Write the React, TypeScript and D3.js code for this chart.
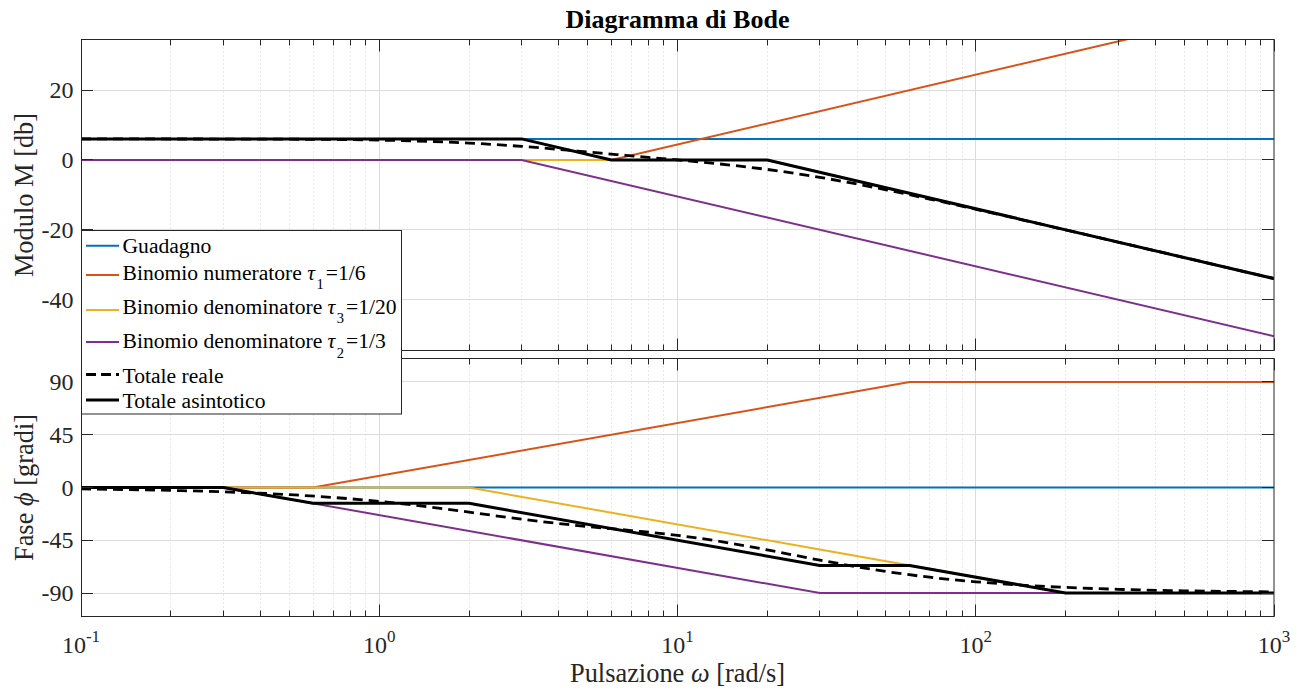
import React from 'react';
import * as d3 from 'd3';

type Pt = [number, number];

// ---------- data ----------
const freqDecades = [0.1, 1, 10, 100, 1000];
const decadeExponents = ['-1', '0', '1', '2', '3'];
const minorMultipliers = [2, 3, 4, 5, 6, 7, 8, 9];
const magTicks = [-40, -20, 0, 20];
const phaseTicks = [-90, -45, 0, 45, 90];
const magDomain: Pt = [-54.6, 34.5];
const phaseDomain: Pt = [-110, 110];

// Modulo [dB]  ([omega, value])
const magGuadagno: Pt[] = [[0.1, 6.02], [1000, 6.02]];
const magNumeratore: Pt[] = [[0.1, 0], [6, 0], [1000, 44.4]];
const magDenom3: Pt[] = [[0.1, 0], [20, 0], [1000, -34.0]];
const magDenom2: Pt[] = [[0.1, 0], [3, 0], [1000, -50.5]];
const magReale: Pt[] = [
  [0.1, 6.02], [0.2, 6.0], [0.5, 5.93], [1, 5.67], [1.5, 5.29], [2, 4.84], [3, 3.88],
  [4, 3.01], [5, 2.27], [6, 1.67], [8, 0.72], [10, 0.0], [15, -1.47], [20, -2.73],
  [30, -4.99], [50, -8.55], [70, -11.2], [100, -14.14], [200, -20.04], [500, -27.97], [1000, -33.98],
];
const magAsintotico: Pt[] = [[0.1, 6.02], [3, 6.02], [6, 0], [20, 0], [1000, -34.0]];

// Fase [gradi]
const phGuadagno: Pt[] = [[0.1, 0], [1000, 0]];
const phNumeratore: Pt[] = [[0.1, 0], [0.6, 0], [60, 90], [1000, 90]];
const phDenom3: Pt[] = [[0.1, 0], [2, 0], [200, -90], [1000, -90]];
const phDenom2: Pt[] = [[0.1, 0], [0.3, 0], [30, -90], [1000, -90]];
const phReale: Pt[] = [
  [0.1, -1.2], [0.2, -2.5], [0.3, -3.7], [0.5, -6.1], [0.7, -8.5], [1, -11.8], [1.5, -16.8],
  [2, -21.0], [3, -27.0], [5, -33.3], [7, -36.7], [10, -40.8], [15, -47.4], [20, -53.2],
  [30, -61.9], [50, -71.6], [70, -76.5], [100, -80.4], [150, -83.6], [200, -85.2],
  [300, -86.8], [500, -88.1], [1000, -89.0],
];
const phAsintotico: Pt[] = [
  [0.1, 0], [0.3, 0], [0.6, -13.5], [2, -13.5], [30, -66.5], [60, -66.5], [200, -90], [1000, -90],
];

// legend: [prefix, sub, suffix]
const legendLabels: [string, string, string][] = [
  ['Guadagno', '', ''],
  ['Binomio numeratore ', '1', '=1/6'],
  ['Binomio denominatore ', '3', '=1/20'],
  ['Binomio denominatore ', '2', '=1/3'],
  ['Totale reale', '', ''],
  ['Totale asintotico', '', ''],
];

// ---------- layout / style ----------
const W = 1299, H = 690;
const L = 81, R = 1274;
const T1 = 39.5, B1 = 350.5;
const T2 = 358.5, B2 = 616.5;
const FONT = '"Liberation Serif", "Times New Roman", Times, serif';
const AX = '#262626';
const COLORS = ['#0072BD', '#D95319', '#EDB120', '#7E2F8E', '#000000', '#000000'];

const x = d3.scaleLog().domain([freqDecades[0], freqDecades[freqDecades.length - 1]]).range([L, R]);
const yM = d3.scaleLinear().domain(magDomain).range([B1, T1]);
const yP = d3.scaleLinear().domain(phaseDomain).range([B2, T2]);

const minorFreqs: number[] = [];
freqDecades.slice(0, -1).forEach((d) => minorMultipliers.forEach((m) => minorFreqs.push(d * m)));

const crisp = (v: number) => Math.round(v - 0.5) + 0.5;

function Series({ y, sets }: { y: d3.ScaleLinear<number, number>; sets: Pt[][] }) {
  const lin = d3.line<Pt>().x((d) => x(d[0])).y((d) => y(d[1]));
  const smooth = d3.line<Pt>().x((d) => x(d[0])).y((d) => y(d[1])).curve(d3.curveMonotoneX);
  return (
    <g>
      {sets.slice(0, 4).map((s, i) => (
        <path key={i} d={lin(s) || ''} fill="none" stroke={COLORS[i]} strokeWidth={2} />
      ))}
      <path d={smooth(sets[4]) || ''} fill="none" stroke="#000" strokeWidth={2.8} strokeDasharray="10 6" />
      <path d={lin(sets[5]) || ''} fill="none" stroke="#000" strokeWidth={3} strokeLinejoin="round" />
    </g>
  );
}

function Axes({
  y, ticks, top, bottom, id, sets, xLabels,
}: {
  y: d3.ScaleLinear<number, number>; ticks: number[]; top: number; bottom: number; id: string; sets: Pt[][]; xLabels: boolean;
}) {
  return (
    <g>
      <defs>
        <clipPath id={id}>
          <rect x={L} y={top} width={R - L} height={bottom - top} />
        </clipPath>
      </defs>
      {minorFreqs.map((f, i) => (
        <line key={'mg' + i} x1={crisp(x(f))} x2={crisp(x(f))} y1={top} y2={bottom} stroke="#c4c4c4" strokeWidth={0.8} strokeDasharray="1 3" />
      ))}
      {freqDecades.slice(1, -1).map((f, i) => (
        <line key={'xg' + i} x1={crisp(x(f))} x2={crisp(x(f))} y1={top} y2={bottom} stroke="#dcdcdc" strokeWidth={1} />
      ))}
      {ticks.map((t, i) => (
        <line key={'yg' + i} x1={L} x2={R} y1={crisp(y(t))} y2={crisp(y(t))} stroke="#dcdcdc" strokeWidth={1} />
      ))}
      <g clipPath={`url(#${id})`}>
        <Series y={y} sets={sets} />
      </g>
      <rect x={L + 0.5} y={top} width={R - L - 0.5} height={bottom - top} fill="none" stroke={AX} strokeWidth={1} />
      {freqDecades.map((f, i) => (
        <g key={'xt' + i}>
          <line x1={crisp(x(f))} x2={crisp(x(f))} y1={top} y2={top + 12} stroke={AX} />
          <line x1={crisp(x(f))} x2={crisp(x(f))} y1={bottom} y2={bottom - 12} stroke={AX} />
        </g>
      ))}
      {minorFreqs.map((f, i) => (
        <g key={'xm' + i}>
          <line x1={crisp(x(f))} x2={crisp(x(f))} y1={top} y2={top + 6} stroke={AX} />
          <line x1={crisp(x(f))} x2={crisp(x(f))} y1={bottom} y2={bottom - 6} stroke={AX} />
        </g>
      ))}
      {ticks.map((t, i) => (
        <g key={'yt' + i}>
          <line x1={L} x2={L + 12} y1={crisp(y(t))} y2={crisp(y(t))} stroke={AX} />
          <line x1={R - 12} x2={R} y1={crisp(y(t))} y2={crisp(y(t))} stroke={AX} />
          <text x={73.5} y={y(t) + 8} textAnchor="end" fontFamily={FONT} fontSize={24} fill={AX}>
            {t < 0 ? '-' + Math.abs(t) : String(t)}
          </text>
        </g>
      ))}
      {xLabels &&
        freqDecades.map((f, i) => (
          <text key={'xl' + i} x={x(f)} y={652.5} textAnchor="middle" fontFamily={FONT} fontSize={24} fill={AX}>
            10
            <tspan dy={-11} fontSize={17}>{decadeExponents[i]}</tspan>
          </text>
        ))}
    </g>
  );
}

function Legend() {
  const rowLine = [245.7, 275, 310, 342, 374.5, 400];
  const rowBase = [253.3, 279.5, 313.8, 348, 382.7, 408.3];
  return (
    <g>
      <rect x={81.5} y={230.5} width={320} height={183.5} fill="#fff" stroke={AX} strokeWidth={1} />
      {legendLabels.map((lab, i) => (
        <g key={i}>
          <line
            x1={86} x2={119} y1={rowLine[i]} y2={rowLine[i]}
            stroke={COLORS[i]}
            strokeWidth={i >= 4 ? 3 : 2}
            strokeDasharray={i === 4 ? '10 5' : undefined}
          />
          <text x={122.5} y={rowBase[i]} fontFamily={FONT} fontSize={21.6} fill="#000">
            {lab[0]}
            {lab[1] && (
              <>
                <tspan fontStyle="italic">τ</tspan>
                <tspan dx={1.5} dy={9.5} fontSize={14.5}>{lab[1]}</tspan>
                <tspan dx={2} dy={-9.5}>{lab[2]}</tspan>
              </>
            )}
          </text>
        </g>
      ))}
    </g>
  );
}

export default function App() {
  return (
    <svg width={W} height={H} viewBox={`0 0 ${W} ${H}`} style={{ position: 'absolute', left: 0, top: 0, background: '#fff' }}>
      <rect x={0} y={0} width={W} height={H} fill="#fff" />
      <text x={(L + R) / 2} y={28.3} textAnchor="middle" fontFamily={FONT} fontWeight="bold" fontSize={26} fill="#000">
        Diagramma di Bode
      </text>
      <Axes y={yM} ticks={magTicks} top={T1} bottom={B1} id="clipMag" xLabels={false}
        sets={[magGuadagno, magNumeratore, magDenom3, magDenom2, magReale, magAsintotico]} />
      <Axes y={yP} ticks={phaseTicks} top={T2} bottom={B2} id="clipPh" xLabels={true}
        sets={[phGuadagno, phNumeratore, phDenom3, phDenom2, phReale, phAsintotico]} />
      <text transform={`translate(32.5, ${(T1 + B1) / 2}) rotate(-90)`} textAnchor="middle" fontFamily={FONT} fontSize={26.4} fill={AX}>
        Modulo M [db]
      </text>
      <text transform={`translate(32.5, ${(T2 + B2) / 2}) rotate(-90)`} textAnchor="middle" fontFamily={FONT} fontSize={26.4} fill={AX}>
        Fase <tspan fontStyle="italic">ϕ</tspan> [gradi]
      </text>
      <text x={(L + R) / 2} y={682.3} textAnchor="middle" fontFamily={FONT} fontSize={26.4} fill={AX}>
        Pulsazione <tspan fontStyle="italic">ω</tspan> [rad/s]
      </text>
      <Legend />
    </svg>
  );
}
